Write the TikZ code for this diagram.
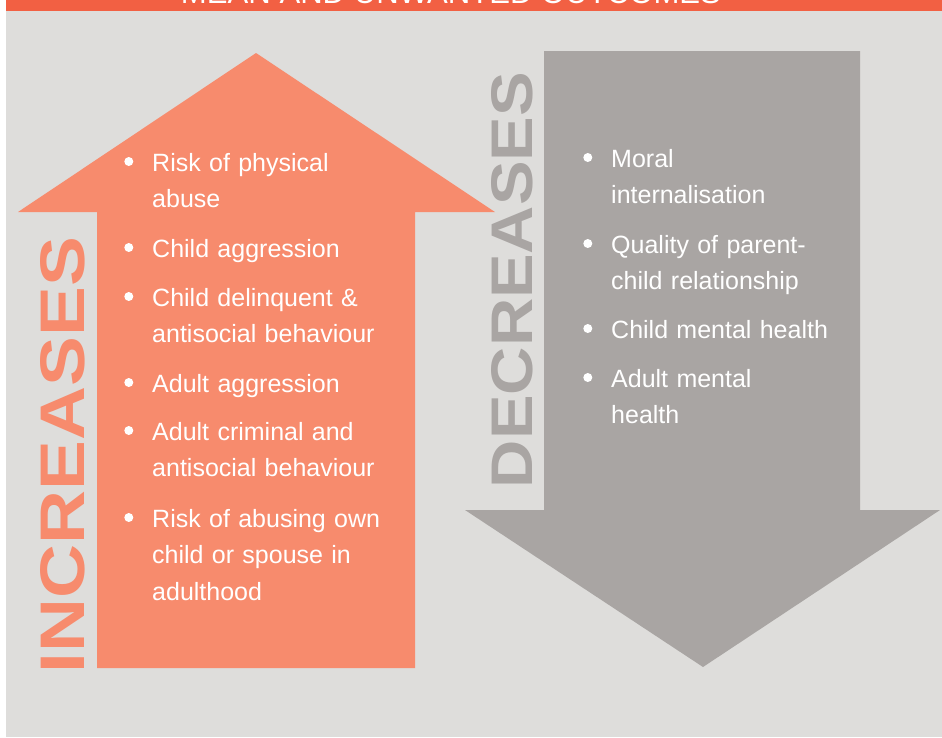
\documentclass[tikz,border=0pt]{standalone}
\usepackage{fontspec}
\setmainfont{Liberation Sans}
\usetikzlibrary{positioning}
\definecolor{barorange}{RGB}{242,96,67}
\definecolor{upsalmon}{RGB}{247,139,109}
\definecolor{downgrey}{RGB}{169,165,163}
\definecolor{panelgrey}{RGB}{222,221,219}
\tikzset{
  item/.style={anchor=base west, text=white, align=left, text width=270pt,
    inner sep=0pt, font=\fontsize{25}{36.5}\selectfont},
  dot/.style={circle, fill=white, minimum size=9pt, inner sep=0pt},
  bigword/.style={rotate=90, inner sep=0pt, font=\bfseries},
}

\begin{document}
\begin{tikzpicture}[x=1pt,y=-1pt]
	\useasboundingbox (0,0) rectangle (942,737);
	\clip (0,0) rectangle (942,737);
	\fill[panelgrey] (6,0) rectangle (942,737);
	\fill[barorange] (6,0) rectangle (942,11);
	\node[anchor=base, text=white, inner sep=0pt] (title) at (451,3)
		{\resizebox{540pt}{!}{MEAN AND UNWANTED OUTCOMES}};
	
	% arrows
	\fill[upsalmon] (97,668) -- (97,212) -- (18,212) -- (256,53) -- (495,212) -- (415,212) -- (415,668) -- cycle;
	\fill[downgrey] (544,51) -- (860,51) -- (860,510) -- (940,510) -- (703,667) -- (465,510) -- (544,510) -- cycle;
	
	\node[bigword, text=upsalmon] (incr) at (62.5,455) {\resizebox{436pt}{44pt}{INCREASES}};
	\node[bigword, text=downgrey] (decr) at (512.5,280) {\resizebox{416pt}{41pt}{DECREASES}};
	
	% outcomes that go up
	\node[item] (up1) at (152,171) {Risk of physical\\abuse};
	\node[item] (up2) at (152,257) {Child aggression};
	\node[item] (up3) at (152,306) {Child delinquent \&\\antisocial behaviour};
	\node[item] (up4) at (152,392) {Adult aggression};
	\node[item] (up5) at (152,440) {Adult criminal and\\antisocial behaviour};
	\node[item] (up6) at (152,527) {Risk of abusing own\\child or spouse in\\adulthood};
	
	% outcomes that go down
	\node[item] (dn1) at (611,167) {Moral\\internalisation};
	\node[item] (dn2) at (611,253) {Quality of parent-\\child relationship};
	\node[item] (dn3) at (611,338) {Child mental health};
	\node[item] (dn4) at (611,387) {Adult mental\\health};
	
	\foreach \n in {up1,up2,up3,up4,up5,up6,dn1,dn2,dn3,dn4}
		\node[dot, left=18.5pt of \n.base west, yshift=9.5pt] (b-\n) {};
\end{tikzpicture}
\end{document}
